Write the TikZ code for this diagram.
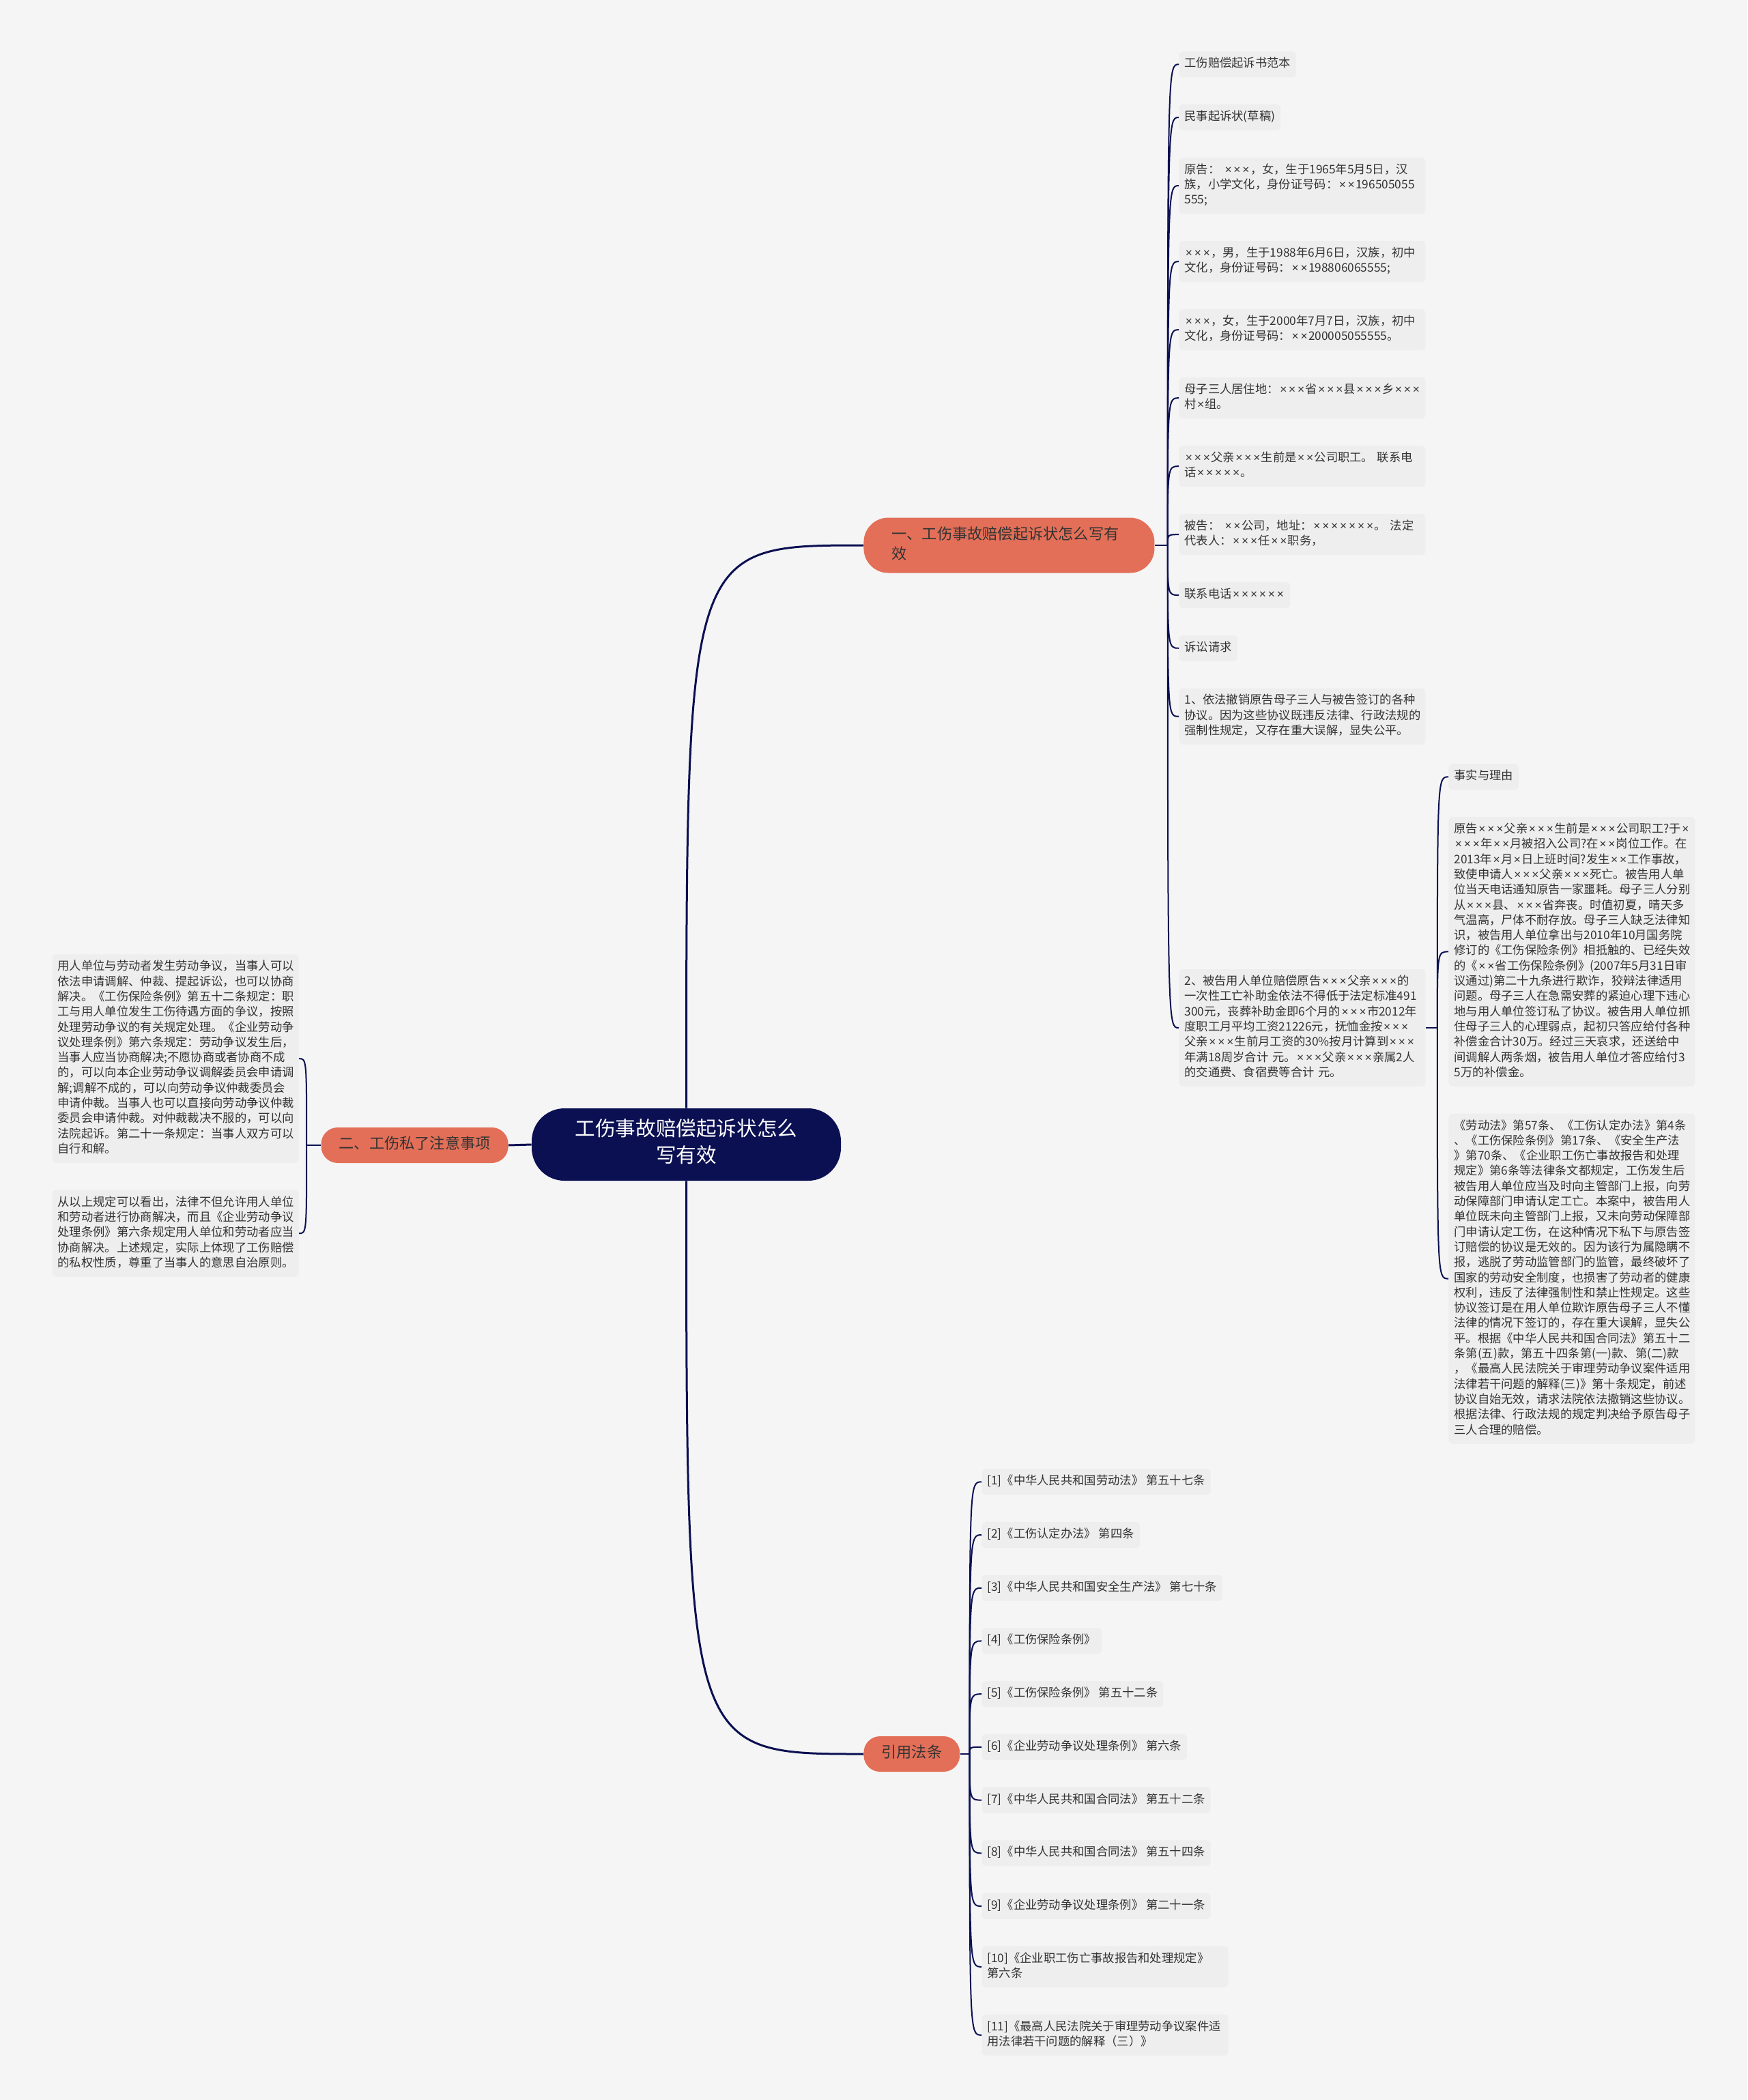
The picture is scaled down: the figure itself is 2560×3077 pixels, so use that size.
\documentclass[tikz,border=0pt]{standalone}
\usepackage{fontspec}
\setmainfont{Noto Sans CJK SC}
\newfontfamily\timesfont{Liberation Sans}
\usetikzlibrary{positioning}

\definecolor{paper}{HTML}{F5F5F5}
\definecolor{navy}{HTML}{0B1052}
\definecolor{coral}{HTML}{E36F58}
\definecolor{leafgray}{HTML}{EEEEEE}
\definecolor{ink}{HTML}{333333}

\catcode`\×=\active
\def×{\makebox[.75em][c]{\timesfont\char"D7}}

\begin{document}
\begin{tikzpicture}[
  x=0.5pt, y=-0.5pt,
  node distance=19.5pt,
  struts/.style={execute at begin node=\strut, execute at end node=\strut},
  rootbox/.style={struts, fill=navy, text=white, rounded corners=24pt, align=center, minimum width=226.5pt, minimum height=53pt, font=\fontsize{14.8pt}{19.5pt}\selectfont},
  topic/.style={struts, fill=coral, text=ink, rounded corners=12pt, inner xsep=13pt, inner ysep=5.75pt, font=\fontsize{11.1pt}{14.5pt}\selectfont},
  leaf/.style={struts, fill=leafgray, text=ink, rounded corners=3pt, align=left, inner xsep=4pt, inner ysep=3.9pt, font=\fontsize{8.65pt}{11.15pt}\selectfont},
  wide/.style={text width=172.5pt},
  under/.style={below=of #1.south west, anchor=north west},
  underleft/.style={below=of #1.south east, anchor=north east},
  link/.style={draw=navy, line width=1.5pt},
  twig/.style={draw=navy, line width=1pt}
]
\fill[paper] (0,0) rectangle (2560,3077);

\node[rootbox] (root) at (1005.5,1677) {工伤事故赔偿起诉状怎么\\写有效};
\node[topic, anchor=west, align=left, text width=172pt, inner xsep=20.5pt, rounded corners=18pt] (claim) at (1265,799) {一、工伤事故赔偿起诉状怎么写有\\效};
\node[topic, anchor=east] (settle) at (745,1678) {二、工伤私了注意事项};
\node[topic, anchor=west] (laws) at (1265,2570) {引用法条};

\node[leaf, anchor=north west] (c1) at (1727,75) {工伤赔偿起诉书范本};
\node[leaf, under=c1] (c2) {民事起诉状(草稿)};
\node[leaf, wide, under=c2] (c3) {原告：~×××，女，生于1965年5月5日，汉\\族，小学文化，身份证号码：××196505055\\555;};
\node[leaf, wide, under=c3] (c4) {×××，男，生于1988年6月6日，汉族，初中\\文化，身份证号码：××198806065555;};
\node[leaf, wide, under=c4] (c5) {×××，女，生于2000年7月7日，汉族，初中\\文化，身份证号码：××200005055555。};
\node[leaf, wide, under=c5] (c6) {母子三人居住地：×××省×××县×××乡×××\\村×组。};
\node[leaf, wide, under=c6] (c7) {×××父亲×××生前是××公司职工。~联系电\\话×××××。};
\node[leaf, wide, under=c7] (c8) {被告：~××公司，地址：×××××××。~法定\\代表人：×××任××职务，};
\node[leaf, under=c8] (c9) {联系电话××××××};
\node[leaf, under=c9] (c10) {诉讼请求};
\node[leaf, wide, under=c10] (c11) {1、依法撤销原告母子三人与被告签订的各种\\协议。因为这些协议既违反法律、行政法规的\\强制性规定，又存在重大误解，显失公平。};
\node[leaf, wide, anchor=west] (c12) at (1727,1506) {2、被告用人单位赔偿原告×××父亲×××的\\一次性工亡补助金依法不得低于法定标准491\\300元，丧葬补助金即6个月的×××市2012年\\度职工月平均工资21226元，抚恤金按×××\\父亲×××生前月工资的30\%按月计算到×××\\年满18周岁合计~元。×××父亲×××亲属2人\\的交通费、食宿费等合计~元。};

\node[leaf, anchor=north west] (d1) at (2122,1119) {事实与理由};
\node[leaf, wide, under=d1] (d2) {原告×××父亲×××生前是×××公司职工?于×\\×××年××月被招入公司?在××岗位工作。在\\2013年×月×日上班时间?发生××工作事故，\\致使申请人×××父亲×××死亡。被告用人单\\位当天电话通知原告一家噩耗。母子三人分别\\从×××县、×××省奔丧。时值初夏，晴天多\\气温高，尸体不耐存放。母子三人缺乏法律知\\识，被告用人单位拿出与2010年10月国务院\\修订的《工伤保险条例》相抵触的、已经失效\\的《××省工伤保险条例》(2007年5月31日审\\议通过)第二十九条进行欺诈，狡辩法律适用\\问题。母子三人在急需安葬的紧迫心理下违心\\地与用人单位签订私了协议。被告用人单位抓\\住母子三人的心理弱点，起初只答应给付各种\\补偿金合计30万。经过三天哀求，还送给中\\间调解人两条烟，被告用人单位才答应给付3\\5万的补偿金。};
\node[leaf, wide, under=d2] (d3) {《劳动法》第57条、《工伤认定办法》第4条\\、《工伤保险条例》第17条、《安全生产法\\》第70条、《企业职工伤亡事故报告和处理\\规定》第6条等法律条文都规定，工伤发生后\\被告用人单位应当及时向主管部门上报，向劳\\动保障部门申请认定工亡。本案中，被告用人\\单位既未向主管部门上报，又未向劳动保障部\\门申请认定工伤，在这种情况下私下与原告签\\订赔偿的协议是无效的。因为该行为属隐瞒不\\报，逃脱了劳动监管部门的监管，最终破坏了\\国家的劳动安全制度，也损害了劳动者的健康\\权利，违反了法律强制性和禁止性规定。这些\\协议签订是在用人单位欺诈原告母子三人不懂\\法律的情况下签订的，存在重大误解，显失公\\平。根据《中华人民共和国合同法》第五十二\\条第(五)款，第五十四条第(一)款、第(二)款\\，《最高人民法院关于审理劳动争议案件适用\\法律若干问题的解释(三)》第十条规定，前述\\协议自始无效，请求法院依法撤销这些协议。\\根据法律、行政法规的规定判决给予原告母子\\三人合理的赔偿。};

\node[leaf, wide, anchor=north east] (l1) at (438,1398) {用人单位与劳动者发生劳动争议，当事人可以\\依法申请调解、仲裁、提起诉讼，也可以协商\\解决。《工伤保险条例》第五十二条规定：职\\工与用人单位发生工伤待遇方面的争议，按照\\处理劳动争议的有关规定处理。《企业劳动争\\议处理条例》第六条规定：劳动争议发生后，\\当事人应当协商解决;不愿协商或者协商不成\\的，可以向本企业劳动争议调解委员会申请调\\解;调解不成的，可以向劳动争议仲裁委员会\\申请仲裁。当事人也可以直接向劳动争议仲裁\\委员会申请仲裁。对仲裁裁决不服的，可以向\\法院起诉。第二十一条规定：当事人双方可以\\自行和解。};
\node[leaf, wide, underleft=l1] (l2) {从以上规定可以看出，法律不但允许用人单位\\和劳动者进行协商解决，而且《企业劳动争议\\处理条例》第六条规定用人单位和劳动者应当\\协商解决。上述规定，实际上体现了工伤赔偿\\的私权性质，尊重了当事人的意思自治原则。};

\node[leaf, anchor=north west] (r1) at (1438,2152) {[1]《中华人民共和国劳动法》 第五十七条};
\node[leaf, under=r1] (r2) {[2]《工伤认定办法》 第四条};
\node[leaf, under=r2] (r3) {[3]《中华人民共和国安全生产法》 第七十条};
\node[leaf, under=r3] (r4) {[4]《工伤保险条例》};
\node[leaf, under=r4] (r5) {[5]《工伤保险条例》 第五十二条};
\node[leaf, under=r5] (r6) {[6]《企业劳动争议处理条例》 第六条};
\node[leaf, under=r6] (r7) {[7]《中华人民共和国合同法》 第五十二条};
\node[leaf, under=r7] (r8) {[8]《中华人民共和国合同法》 第五十四条};
\node[leaf, under=r8] (r9) {[9]《企业劳动争议处理条例》 第二十一条};
\node[leaf, wide, under=r9] (r10) {[10]《企业职工伤亡事故报告和处理规定》\\第六条};
\node[leaf, wide, under=r10] (r11) {[11]《最高人民法院关于审理劳动争议案件适\\用法律若干问题的解释（三）》};

\draw[link] (root.west) -- (settle.east);
\draw[link] (root.north) .. controls (root.north |- claim.west) .. (claim.west);
\draw[link] (root.south) .. controls (root.south |- laws.west) .. (laws.west);

\coordinate[right=9.5pt of claim.east] (jc);
\draw[twig] (claim.east) -- (jc);
\foreach \k in {1,...,12}
  \draw[twig] (jc) .. controls (jc |- c\k.west) .. (c\k.west);

\coordinate[right=8.5pt of c12.east] (jd);
\draw[twig] (c12.east) -- (jd);
\foreach \k in {1,2,3}
  \draw[twig] (jd) .. controls (jd |- d\k.west) .. (d\k.west);

\coordinate[left=10.5pt of settle.west] (js);
\draw[twig] (settle.west) -- (js);
\foreach \k in {1,2}
  \draw[twig] (js) .. controls (js |- l\k.east) .. (l\k.east);

\coordinate[right=7pt of laws.east] (jl);
\draw[twig] (laws.east) -- (jl);
\foreach \k in {1,...,11}
  \draw[twig] (jl) .. controls (jl |- r\k.west) .. (r\k.west);
\end{tikzpicture}
\end{document}
